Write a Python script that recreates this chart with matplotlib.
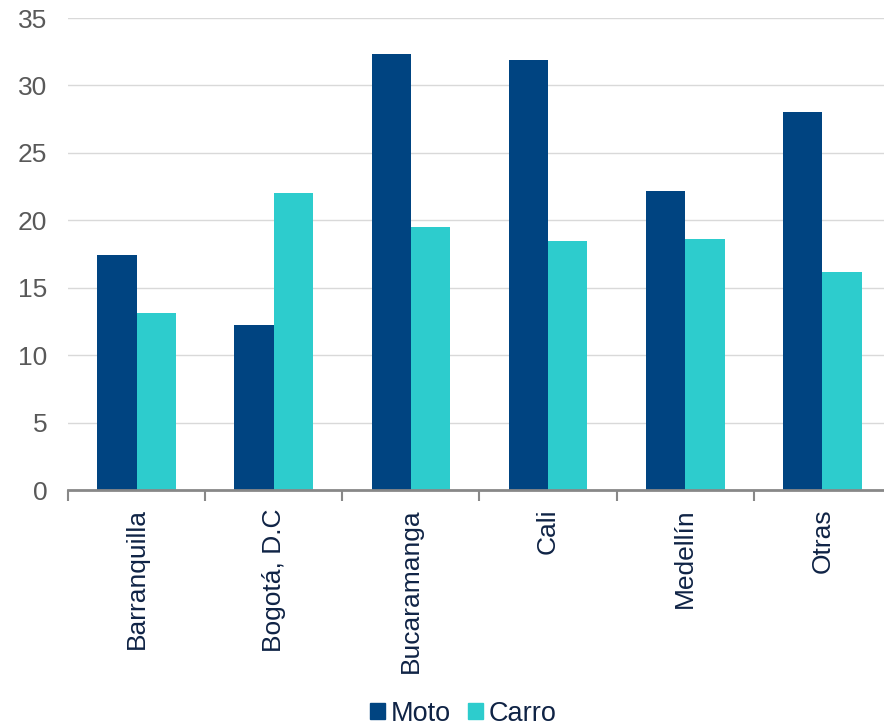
import matplotlib
matplotlib.use("Agg")
import matplotlib.pyplot as plt
import numpy as np
from matplotlib.patches import Patch

categories = ["Barranquilla", "Bogotá, D.C", "Bucaramanga", "Cali", "Medellín", "Otras"]
moto = [17.4, 12.2, 32.3, 31.9, 22.2, 28.0]
carro = [13.1, 22.0, 19.5, 18.5, 18.6, 16.2]
yticks = [0, 5, 10, 15, 20, 25, 30, 35]

plt.rcParams['font.family'] = ['Liberation Sans', 'DejaVu Sans']

fig = plt.figure(figsize=(8.84, 7.25), dpi=100)
ax = fig.add_axes([68/884, 1-490/725, 823/884, (490-18)/725])

x = np.arange(len(categories))
w = 0.287
c_moto = "#004481"
c_carro = "#2DCCCD"
ax.bar(x - w/2, moto, w, color=c_moto, zorder=3)
ax.bar(x + w/2, carro, w, color=c_carro, zorder=3)

ax.set_xlim(-0.5, len(categories) - 0.5)
ax.set_ylim(0, 35)
ax.set_yticks(yticks)
ax.set_yticklabels([str(v) for v in yticks], fontsize=19, color="#595959")
ax.tick_params(axis='y', length=0, pad=15)
ax.grid(axis='y', color="#d9d9d9", linewidth=1, zorder=0)

ax.set_xticks(x)
ax.set_xticklabels(categories, rotation=90, fontsize=19, color="#0f2345")
ax.tick_params(axis='x', which='major', length=0, pad=13)
ax.set_xticks(np.arange(-0.5, len(categories), 1), minor=True)
ax.tick_params(axis='x', which='minor', length=8, width=1.5, color="#888888", direction='out')

for s in ['top', 'right', 'left']:
    ax.spines[s].set_visible(False)
ax.spines['bottom'].set_color("#888888")
ax.spines['bottom'].set_linewidth(2)
ax.spines['bottom'].set_zorder(4)

handles = [Patch(color=c_moto, label="Moto"), Patch(color=c_carro, label="Carro")]
fig.legend(handles=handles, loc='lower center', bbox_to_anchor=(0.524, -0.036), ncol=2,
           frameon=False, fontsize=19.5, handlelength=0.55, handleheight=0.55,
           handletextpad=0.2, columnspacing=0.65, labelcolor="#0f2345")

fig.savefig("out.png", dpi=100)
